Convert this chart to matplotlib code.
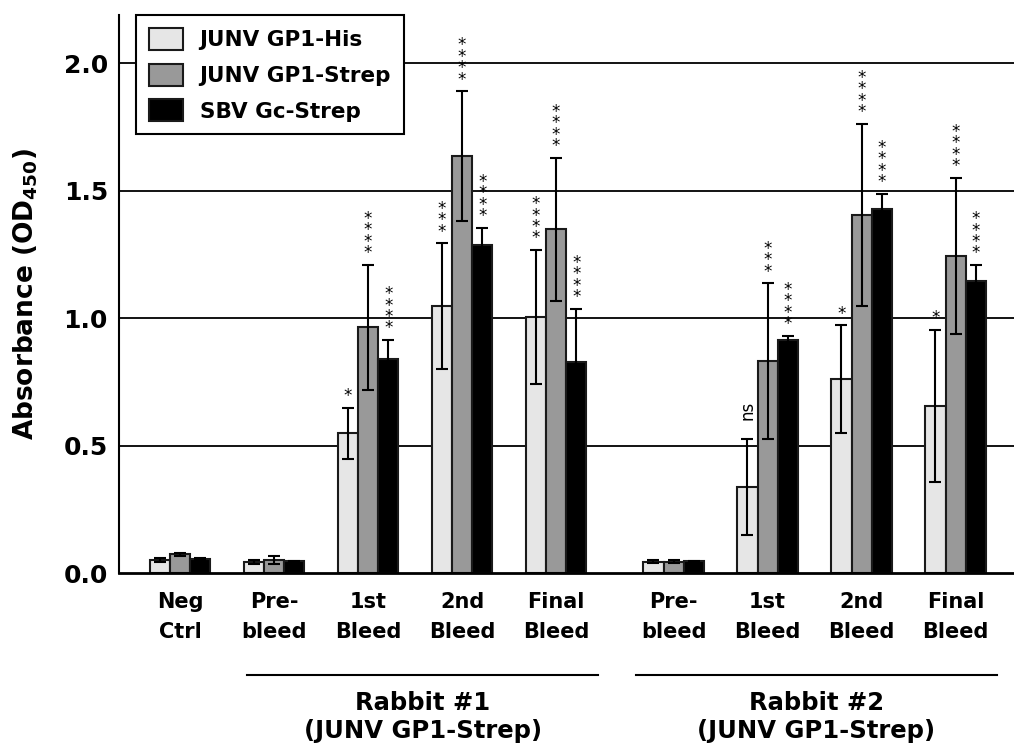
import numpy as np
import matplotlib
matplotlib.use("Agg")
import matplotlib.pyplot as plt
from matplotlib.patches import Patch

# data
groups = ["Neg\nCtrl", "Pre-\nbleed", "1st\nBleed", "2nd\nBleed", "Final\nBleed",
          "Pre-\nbleed", "1st\nBleed", "2nd\nBleed", "Final\nBleed"]
series = ["JUNV GP1-His", "JUNV GP1-Strep", "SBV Gc-Strep"]

his = [0.051, 0.043, 0.548, 1.047, 1.005, 0.044, 0.337, 0.760, 0.657]
his_err = [0.006, 0.007, 0.100, 0.247, 0.262, 0.006, 0.188, 0.212, 0.298]
strep = [0.073, 0.052, 0.965, 1.635, 1.349, 0.045, 0.832, 1.405, 1.245]
strep_err = [0.007, 0.016, 0.245, 0.255, 0.280, 0.006, 0.305, 0.358, 0.305]
sbv = [0.056, 0.047, 0.839, 1.287, 0.827, 0.046, 0.913, 1.430, 1.146]
sbv_err = [0.002, 0.002, 0.075, 0.068, 0.210, 0.002, 0.017, 0.058, 0.062]

his_sig = ["", "", "*", "***", "****", "", "ns", "*", "*"]
strep_sig = ["", "", "****", "****", "****", "", "***", "****", "****"]
sbv_sig = ["", "", "****", "****", "****", "", "****", "****", "****"]

rabbits = ["Rabbit #1\n(JUNV GP1-Strep)", "Rabbit #2\n(JUNV GP1-Strep)"]

# layout
x = np.array([0, 1, 2, 3, 4, 5.25, 6.25, 7.25, 8.25])
w = 0.215
colors = ["#e6e6e6", "#999999", "#000000"]

plt.rcParams['font.family'] = 'DejaVu Sans'
fig = plt.figure(figsize=(10.14, 7.51), dpi=100)
ax = fig.add_axes([0.1174, 0.237, 0.8826, 0.743])

for y in [0.5, 1.0, 1.5, 2.0]:
    ax.axhline(y, color='black', linewidth=1.3, zorder=0)

vals = [his, strep, sbv]
errs = [his_err, strep_err, sbv_err]
sigs = [his_sig, strep_sig, sbv_sig]
for i in range(3):
    xi = x + (i - 1) * w
    ax.bar(xi, vals[i], width=w, color=colors[i], edgecolor='#1a1a1a',
           linewidth=1.5, zorder=2)
    ax.errorbar(xi, vals[i], yerr=errs[i], fmt='none', ecolor='black',
                elinewidth=1.5, capsize=4, capthick=1.5, zorder=3)
    for xx, v, e, s in zip(xi, vals[i], errs[i], sigs[i]):
        if s == "ns":
            ax.annotate(s, (xx, v + e), xytext=(0, 14), textcoords='offset points',
                        ha='center', va='bottom', rotation=90, fontsize=12)
        elif s:
            ax.annotate("\n".join(s), (xx, v + e), xytext=(0, 2),
                        textcoords='offset points', ha='center', va='bottom',
                        fontsize=12, linespacing=0.53)

ax.set_xlim(-0.649, 8.87)
ax.set_ylim(0, 2.19)
ax.set_yticks([0.0, 0.5, 1.0, 1.5, 2.0])
ax.set_yticklabels(["0.0", "0.5", "1.0", "1.5", "2.0"], fontsize=18, fontweight='bold')
ax.set_xticks(x)
ax.set_xticklabels(groups, fontsize=15, fontweight='bold', linespacing=1.6)
ax.tick_params(axis='both', length=0)
ax.tick_params(axis='x', pad=14)
ax.tick_params(axis='y', pad=8)
for sp in ['top', 'right']:
    ax.spines[sp].set_visible(False)
ax.spines['left'].set_linewidth(1.5)
ax.spines['bottom'].set_linewidth(2)

ax.set_ylabel(r"Absorbance (OD$_{\mathbf{450}}$)", fontsize=19, fontweight='bold')
ax.yaxis.set_label_coords(-0.088, 0.5)

# group brackets under the axis
trans = ax.get_xaxis_transform()
spans = [(0.71, 4.45), (4.85, 8.69)]
for (a, b), lab in zip(spans, rabbits):
    ax.plot([a, b], [-0.183, -0.183], color='black', linewidth=1.5,
            transform=trans, clip_on=False)
    ax.text((a + b) / 2, -0.212, lab, transform=trans, ha='center', va='top',
            fontsize=17.5, fontweight='bold', linespacing=1.2)

handles = [Patch(facecolor=c, edgecolor='#1a1a1a', linewidth=1.5) for c in colors]
leg = ax.legend(handles, series, loc='upper left', bbox_to_anchor=(0.019, 1.0),
                borderaxespad=0, fancybox=False, edgecolor='black', framealpha=1,
                prop={'weight': 'bold', 'size': 15.5}, handlelength=1.6,
                handleheight=1.2, labelspacing=0.62, handletextpad=0.75,
                borderpad=0.6)
leg.get_frame().set_linewidth(1.5)

fig.savefig("out.png", dpi=100)
